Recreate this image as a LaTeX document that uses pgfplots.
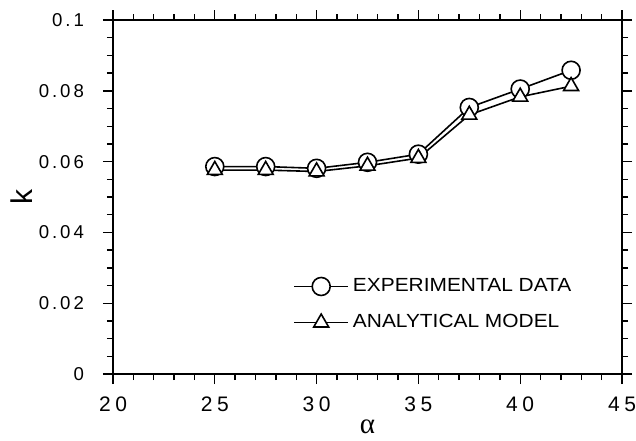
\documentclass[border=0pt]{standalone}
\usepackage{pgfplots}
\pgfplotsset{compat=1.18}
\usepackage{fontspec}
\setmainfont{Liberation Sans}
\newfontfamily\ytickfont[LetterSpace=16]{Liberation Sans}
\newfontfamily\xtickfont[LetterSpace=22]{Liberation Sans}
\newfontfamily\legfont[FakeStretch=1.1]{Liberation Sans}
\newfontfamily\greekfont{Liberation Serif}

\pgfplotstableread{
x    exp     ana
25   0.0586  0.0576
27.5 0.0586  0.0576
30   0.0581  0.0572
32.5 0.0598  0.0588
35   0.0621  0.0610
37.5 0.0753  0.0732
40   0.0805  0.0783
42.5 0.0858  0.0813
}\datatable

\begin{document}
\begin{tikzpicture}
\begin{axis}[
  scale only axis, width=254.5pt, height=177pt,
  xmin=20, xmax=45, ymin=0, ymax=0.1,
  xtick={20,25,30,35,40,45},
  xticklabels={20,25,30,35,40,45},
  ytick={0,0.02,0.04,0.06,0.08,0.1},
  yticklabels={0,0.02,0.04,0.06,0.08,0.1},
  scaled y ticks=false,
  minor x tick num=4, minor y tick num=3,
  tick align=outside,
  major tick length=5pt, minor tick length=3pt,
  axis line style={line width=0.9pt},
  tick style={black, line width=0.7pt},
  /pgf/number format/assume math mode=true,
  xticklabel style={font=\xtickfont\fontsize{10.5}{11}\selectfont, yshift=-3pt},
  yticklabel style={font=\ytickfont\fontsize{9.3}{10}\selectfont, xshift=-6pt},
  xlabel={\greekfont α},
  ylabel={k},
  xlabel style={font=\fontsize{14.5}{15}\selectfont, at={(axis description cs:0.5,-0.1486)}, anchor=center},
  ylabel style={font=\fontsize{15}{16}\selectfont, at={(axis description cs:-0.179,0.5)}, anchor=center},
  legend style={draw=none, fill=none, at={(0.3536,0.196)}, anchor=west, inner sep=0pt,
    row sep=6pt, font=\legfont\fontsize{9.5}{10}\selectfont, cells={anchor=west}},
  legend image code/.code={\draw[mark repeat=2,mark phase=2,#1] plot coordinates {(0pt,0pt) (13.5pt,0pt) (27pt,0pt)};},
]
\addplot[black, line width=0.8pt, forget plot] table[x=x, y=exp] {\datatable};
\addplot[black, line width=0.8pt, forget plot] table[x=x, y=ana] {\datatable};
\addplot[only marks, mark=*, mark size=4.5pt, mark options={fill=white, draw=black, line width=0.8pt}, forget plot] table[x=x, y=exp] {\datatable};
\addplot[only marks, mark=triangle*, mark size=4.3pt, mark options={fill=white, draw=black, line width=0.8pt}, forget plot] table[x=x, y=ana] {\datatable};
\addlegendimage{black, line width=0.8pt, mark=*, mark size=4.5pt, mark options={fill=white, draw=black, line width=0.8pt}}
\addlegendentry{EXPERIMENTAL DATA}
\addlegendimage{black, line width=0.8pt, mark=triangle*, mark size=4.3pt, mark options={fill=white, draw=black, line width=0.8pt}}
\addlegendentry{ANALYTICAL MODEL}
\end{axis}
\pgfresetboundingbox
\path (-56.5pt,-33pt) rectangle (261.5pt,187pt);
\end{tikzpicture}
\end{document}
